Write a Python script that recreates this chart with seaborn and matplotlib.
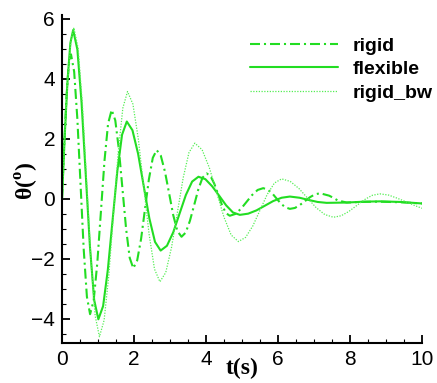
import matplotlib
matplotlib.use("Agg")
import matplotlib.pyplot as plt
import seaborn as sns
import pandas as pd
from matplotlib.ticker import MultipleLocator

# ---- data ----
t_flexible = [0, 0.078, 0.155, 0.233, 0.31,
              0.427, 0.543, 0.66, 0.777, 0.893, 1.01,
              1.142, 1.273, 1.405, 1.537, 1.668, 1.80,
              1.957, 2.113, 2.27, 2.427, 2.583, 2.74,
              2.915, 3.09, 3.265, 3.44, 3.615, 3.79,
              3.982, 4.173, 4.365, 4.557, 4.748, 4.94,
              5.172, 5.403, 5.635, 5.867, 6.098, 6.33,
              6.6, 6.84, 7.1, 7.35, 7.9, 8.4, 8.83, 9.4, 10.0]
v_flexible = [0, 2.15, 3.98, 5.2, 5.63,
              4.98, 3.22, 0.81, -1.60, -3.36, -4.01,
              -3.57, -2.36, -0.71, 0.93, 2.14, 2.58,
              2.29, 1.51, 0.43, -0.65, -1.43, -1.72,
              -1.56, -1.11, -0.49, 0.13, 0.58, 0.74,
              0.66, 0.42, 0.11, -0.21, -0.45, -0.53,
              -0.49, -0.38, -0.225, -0.07, 0.04, 0.08,
              0.04, -0.03, -0.10, -0.13, -0.12, -0.09, -0.08, -0.10, -0.15]

t_rigid = [0, 0.0625, 0.125, 0.1875, 0.25,
           0.338, 0.427, 0.515, 0.603, 0.692, 0.78,
           0.88, 0.98, 1.08, 1.18, 1.28, 1.38,
           1.48, 1.58, 1.68, 1.78, 1.88, 1.98,
           2.088, 2.197, 2.305, 2.413, 2.522, 2.63,
           2.745, 2.86, 2.975, 3.09, 3.205, 3.32,
           3.437, 3.553, 3.67, 3.787, 3.903, 4.02,
           4.127, 4.233, 4.34, 4.447, 4.553, 4.66,
           4.815, 4.97, 5.125, 5.28, 5.435, 5.59,
           5.713, 5.837, 5.96, 6.083, 6.207, 6.33,
           6.47, 6.61, 6.75, 6.89, 7.03, 7.17,
           7.42, 7.54, 7.66, 7.91, 8.3, 8.8, 9.4, 10.0]
v_rigid = [0, 1.84, 3.41, 4.45, 4.82,
           4.24, 2.66, 0.49, -1.68, -3.26, -3.84,
           -3.38, -2.14, -0.44, 1.27, 2.51, 2.97,
           2.62, 1.65, 0.33, -0.99, -1.96, -2.31,
           -2.05, -1.33, -0.34, 0.65, 1.37, 1.63,
           1.44, 0.91, 0.19, -0.54, -1.07, -1.26,
           -1.12, -0.73, -0.21, 0.32, 0.71, 0.85,
           0.76, 0.50, 0.145, -0.21, -0.47, -0.56,
           -0.50, -0.33, -0.10, 0.13, 0.30, 0.36,
           0.31, 0.19, 0.015, -0.16, -0.28, -0.33,
           -0.30, -0.20, -0.07, 0.06, 0.155, 0.19,
           0.11, 0.035, -0.05, -0.12, -0.10, -0.09, -0.11, -0.15]

t_rigid_bw = [0, 0.0825, 0.165, 0.2475, 0.33,
              0.448, 0.567, 0.685, 0.803, 0.922, 1.04,
              1.17, 1.30, 1.43, 1.56, 1.69, 1.82,
              1.97, 2.12, 2.27, 2.42, 2.57, 2.72,
              2.882, 3.043, 3.205, 3.367, 3.528, 3.69,
              3.892, 4.093, 4.295, 4.497, 4.698, 4.90,
              5.10, 5.30, 5.50, 5.70, 5.90, 6.10,
              6.34, 6.58, 6.82, 7.06, 7.30, 7.54,
              7.755, 7.97, 8.185, 8.40, 8.615, 8.83,
              9.07, 9.3, 9.55, 9.8, 10.0]
v_rigid_bw = [0, 2.19, 4.04, 5.28, 5.71,
              5.02, 3.14, 0.56, -2.02, -3.90, -4.59,
              -4.04, -2.55, -0.51, 1.54, 3.03, 3.58,
              3.16, 2.00, 0.41, -1.18, -2.34, -2.76,
              -2.45, -1.61, -0.45, 0.71, 1.55, 1.86,
              1.64, 1.04, 0.22, -0.60, -1.20, -1.42,
              -1.28, -0.90, -0.375, 0.15, 0.53, 0.67,
              0.585, 0.35, 0.03, -0.29, -0.52, -0.61,
              -0.56, -0.415, -0.22, -0.025, 0.12, 0.17,
              0.13, 0.03, -0.09, -0.22, -0.31]

x_ticks = [0, 2, 4, 6, 8, 10]
y_ticks = [-4, -2, 0, 2, 4, 6]

sns.set_theme(style="white")
plt.rcParams['font.family'] = ['Liberation Sans', 'DejaVu Sans']
plt.rcParams['mathtext.fontset'] = 'custom'
plt.rcParams['mathtext.rm'] = 'Liberation Serif'
plt.rcParams['mathtext.bf'] = 'Liberation Serif:bold'
plt.rcParams['text.color'] = 'black'
plt.rcParams['axes.labelcolor'] = 'black'

fig = plt.figure(figsize=(4.37, 3.83), dpi=100)
ax = fig.add_axes([62/437, 1-343.3/383, 360/437, (343.3-15)/383])

green = "#22dd22"
df_r = pd.DataFrame({"t": t_rigid, "v": v_rigid})
df_f = pd.DataFrame({"t": t_flexible, "v": v_flexible})
df_b = pd.DataFrame({"t": t_rigid_bw, "v": v_rigid_bw})

sns.lineplot(data=df_r, x="t", y="v", ax=ax, color=green, lw=1.5,
             linestyle=(0, (4.8, 1.9, 1.0, 1.9)), label="rigid", sort=False)
sns.lineplot(data=df_f, x="t", y="v", ax=ax, color=green, lw=1.5,
             linestyle="-", label="flexible", sort=False)
sns.lineplot(data=df_b, x="t", y="v", ax=ax, color="#55ee55", lw=0.9,
             linestyle=(0, (1, 1.2)), label="rigid_bw", sort=False)

ax.set_xlim(0, 10)
ax.set_ylim(-4.81, 6.13)
ax.set_xticks(x_ticks)
ax.set_yticks(y_ticks)
ax.xaxis.set_minor_locator(MultipleLocator(0.5))
ax.yaxis.set_minor_locator(MultipleLocator(0.5))
ax.tick_params(which="major", direction="in", length=6, width=1.3,
               labelsize=15, color="black", labelcolor="black", pad=5)
ax.tick_params(which="minor", direction="in", length=3, width=0.8, color="black")
ax.tick_params(axis="x", which="both", bottom=True)
ax.tick_params(axis="y", which="both", left=True)

for s in ["top", "right"]:
    ax.spines[s].set_visible(False)
for s in ["left", "bottom"]:
    ax.spines[s].set_color("black")
    ax.spines[s].set_linewidth(1.5)

ax.set_xlabel("t(s)", fontfamily="Liberation Serif", fontweight="bold",
              fontsize=17, color="black")
ax.xaxis.set_label_coords(0.5, (343.3 - 358) / 328.3)
ax.set_ylabel(r"θ($^{\mathbf{o}}$)", fontfamily="Liberation Serif",
              fontweight="bold", fontsize=17, color="black")
ax.yaxis.set_label_coords((41 - 62) / 360, (343.3 - 181) / 328.3)

leg = ax.legend(loc="upper left", bbox_to_anchor=((250-62)/360, 1 - (37-15)/328.3),
                frameon=False, handlelength=4.5, handletextpad=0.8,
                labelspacing=0.3, borderpad=0,
                prop={"weight": "bold", "size": 14, "family": "Liberation Sans"},
                borderaxespad=0)
for txt in leg.get_texts():
    txt.set_color("black")

fig.savefig("out.png", dpi=100)
